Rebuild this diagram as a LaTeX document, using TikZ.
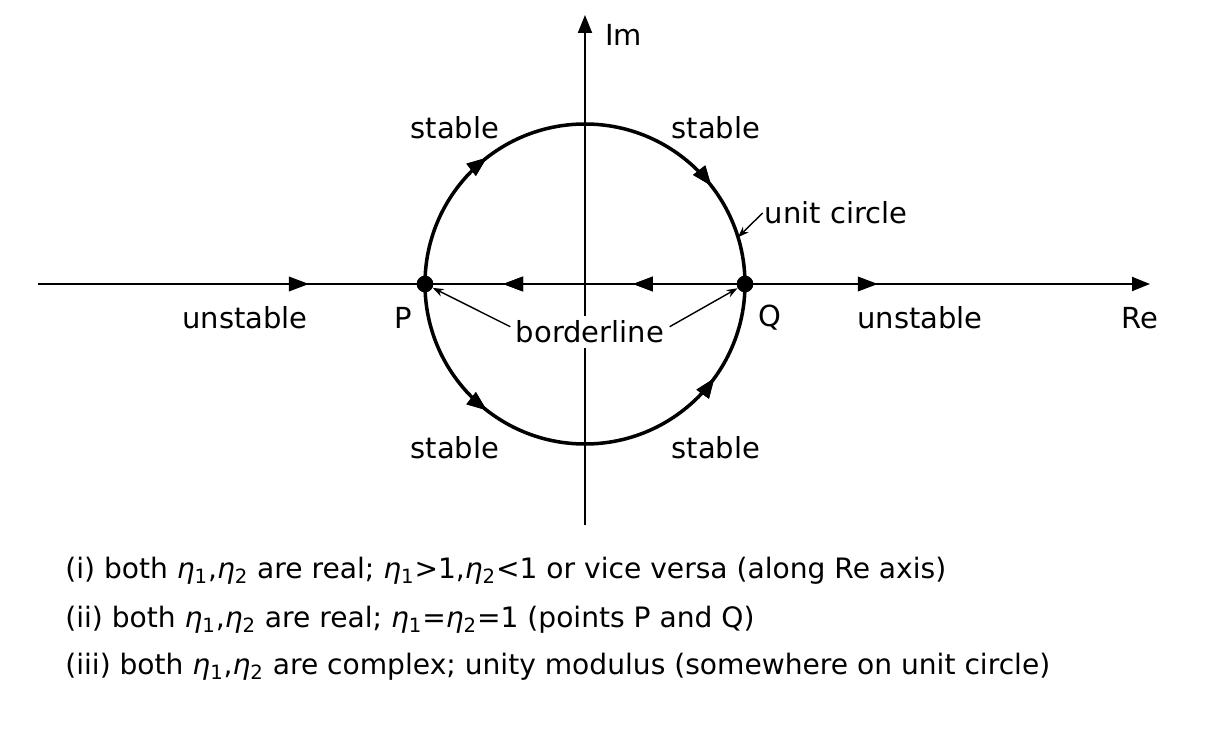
\documentclass[tikz,border=0pt]{standalone}
\usepackage{fontspec}
\setmainfont{DejaVu Sans}
\usepackage{tikz}
\usetikzlibrary{arrows.meta,decorations.markings}
\newcommand{\etai}[1]{\textit{η}\textsubscript{#1}}
\tikzset{
    axisline/.style={line width=1.1pt, -{Triangle[length=3.6mm,width=2.8mm]}},
    flowline/.style={line width=1.1pt},
    circline/.style={line width=2pt},
    tipat/.style={postaction={decorate}, decoration={markings,
        mark=at position #1 with {\arrow{Triangle[length=4mm,width=2.9mm]}}}},
    pointer/.style={line width=0.8pt, -{Stealth[length=2.2mm,width=1.6mm]}},
    dot/.style={circle, fill=black, inner sep=0pt, minimum size=3.3mm},
    lbl/.style={font=\fontsize{16.5}{20}\selectfont, inner sep=1pt},
    captxt/.style={font=\fontsize{16}{20}\selectfont, anchor=west, inner sep=0pt}
}
\begin{document}
\begin{tikzpicture}[x=1cm,y=1cm]
        \useasboundingbox (-11.7,-9.04) rectangle (12.48,5.68);
        \node[dot] at (-3.2,0) (P) {};
        \node[dot] at (3.2,0) (Q) {};
        \coordinate (reL) at (-10.94,0);
        \coordinate (reR) at (11.3,0);
        \coordinate (imB) at (0,-4.82);
        \coordinate (imT) at (0,5.38);
        \coordinate (ucpt) at (17:3.2);
        \draw[axisline] (imB) -- (imT);
        \node[lbl] at (0.1,-0.96) (bl) [fill=white, inner sep=3pt] {borderline};
        \draw[flowline, tipat=0.70] (reL) -- (P.center);
        \draw[flowline, tipat=0.35, tipat=0.756] (Q.center) -- (P.center);
        \draw[axisline, tipat=0.328] (Q.center) -- (reR);
        \draw[circline, tipat=0.29, tipat=0.79] (P.center) arc[start angle=180, end angle=0, radius=3.2];
        \draw[circline, tipat=0.29, tipat=0.80] (P.center) arc[start angle=180, end angle=360, radius=3.2];
        \node[dot] at (-3.2,0) {};
        \node[dot] at (3.2,0) {};
        \node[lbl, anchor=west] at (0.36,4.98) (im) {Im};
        \node[lbl] at (11.1,-0.68) (re) {Re};
        \node[lbl] at (-6.8,-0.68) (unstL) {unstable};
        \node[lbl] at (6.7,-0.68) (unstR) {unstable};
        \node[lbl] at (-3.64,-0.68) (pl) {P};
        \node[lbl] at (3.7,-0.68) (ql) {Q};
        \node[lbl] at (-2.6,3.12) (stUL) {stable};
        \node[lbl] at (2.62,3.12) (stUR) {stable};
        \node[lbl] at (-2.6,-3.28) (stLL) {stable};
        \node[lbl] at (2.62,-3.28) (stLR) {stable};
        \node[lbl] at (5.02,1.42) (uc) {unit circle};
        \draw[pointer] (uc.west) -- (ucpt);
        \draw[pointer] ([yshift=3pt]bl.west) -- (P);
        \draw[pointer] ([yshift=3pt]bl.east) -- (Q);
        \node[captxt] at (-10.4,-5.74) (cap1) {(i) both \etai{1},\etai{2} are real; \etai{1}>1,\etai{2}<1 or vice versa (along Re axis)};
        \node[captxt] at (-10.4,-6.72) (cap2) {(ii) both \etai{1},\etai{2} are real; \etai{1}=\etai{2}=1 (points P and Q)};
        \node[captxt] at (-10.4,-7.66) (cap3) {(iii) both \etai{1},\etai{2} are complex; unity modulus (somewhere on unit circle)};
    \end{tikzpicture}
\end{document}
